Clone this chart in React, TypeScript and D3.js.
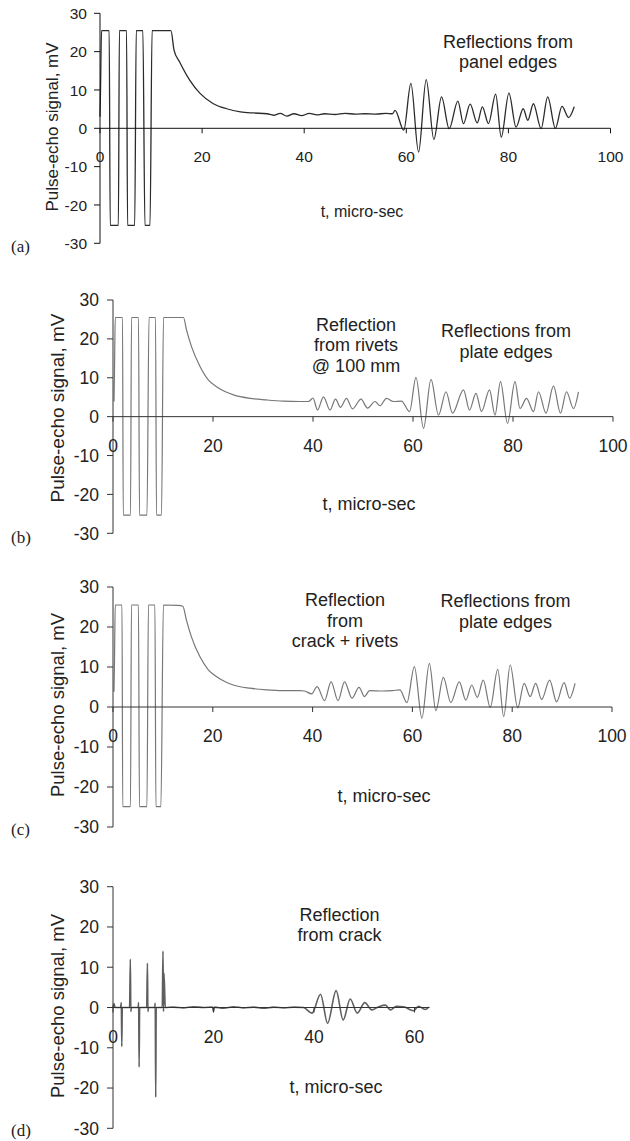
import React from 'react'
import { scaleLinear, line, curveMonotoneX } from 'd3'

// traces: [t in micro-sec, signal in mV]
const signalA: [number, number][] = [
  [0.0, 3.0], [0.1, 10.0], [0.3, 25.5], [1.8, 25.5], [2.0, -25.3], [3.6, -25.3], [3.8, 25.5], [5.2, 25.5],
  [5.4, -25.3], [6.8, -25.3], [7.1, 25.5], [8.4, 25.5], [8.8, -25.3], [9.8, -25.3], [10.2, 25.5], [13.9, 25.5],
  [14.5, 20.4], [15.6, 17.3], [17.6, 12.5], [19.6, 9.1], [22.2, 6.4], [24.8, 5.1], [27.5, 4.3], [30.0, 4.0],
  [32.7, 3.8], [34.0, 3.4], [35.3, 3.9], [36.6, 3.2], [38.0, 3.8], [39.5, 3.3], [41.0, 3.9], [42.5, 3.5],
  [44.0, 3.8], [46.0, 3.6], [48.0, 3.9], [50.0, 3.7], [52.0, 3.8], [54.0, 3.7], [56.0, 3.9], [57.3, 3.8],
  [57.8, 4.7], [59.5, -0.5], [60.9, 11.7], [62.4, -6.2], [63.9, 12.7], [65.4, -2.9], [66.9, 8.2], [68.4, -0.1],
  [70.1, 7.1], [71.2, 1.2], [72.5, 6.3], [73.9, 1.4], [74.9, 5.6], [76.1, 1.2], [77.5, 8.9], [78.6, -2.3],
  [80.1, 9.2], [81.5, 0.3], [82.9, 5.1], [83.8, 2.1], [84.9, 6.4], [86.4, -0.1], [87.7, 8.2], [89.2, 0.0],
  [90.5, 5.7], [91.8, 2.8], [92.9, 5.6],
]

const signalB: [number, number][] = [
  [0.2, 3.9], [0.3, 12.0], [0.45, 25.5], [1.9, 25.5], [2.05, -25.3], [3.5, -25.3], [3.7, 25.5], [5.1, 25.5],
  [5.3, -25.3], [6.8, -25.3], [7.2, 25.5], [8.5, 25.5], [8.7, -25.3], [9.7, -25.3], [10.1, 25.5], [14.1, 25.5],
  [14.7, 22.3], [15.7, 18.0], [17.4, 12.9], [19.1, 9.4], [20.7, 7.7], [22.5, 6.4], [24.1, 5.6], [27.4, 4.7],
  [30.7, 4.3], [34.0, 4.0], [37.4, 3.9], [39.1, 3.9], [40.0, 4.8], [40.9, 1.7], [42.1, 5.1], [43.4, 1.7],
  [44.5, 4.5], [45.5, 2.4], [46.7, 4.7], [47.9, 2.0], [49.6, 4.5], [50.9, 2.2], [52.4, 3.9], [53.4, 2.8],
  [54.7, 4.7], [56.1, 3.9], [57.7, 4.0], [59.3, 1.3], [60.6, 10.1], [62.1, -3.0], [63.6, 9.6], [65.1, 0.4],
  [66.6, 6.4], [67.9, 0.9], [70.1, 6.9], [71.3, 1.7], [72.6, 6.0], [73.7, 1.3], [75.3, 6.9], [76.4, 0.4],
  [77.5, 9.0], [78.9, -1.7], [80.4, 9.0], [81.4, 2.1], [82.7, 4.7], [84.1, 1.3], [85.1, 6.4], [86.6, 0.9],
  [88.1, 7.9], [89.5, 0.9], [90.7, 6.4], [92.1, 2.1], [93.1, 6.4],
]

const signalC: [number, number][] = [
  [0.2, 3.8], [0.3, 12.0], [0.45, 25.5], [1.8, 25.5], [1.95, -24.9], [3.5, -24.9], [3.7, 25.5], [5.1, 25.5],
  [5.3, -24.9], [6.8, -24.9], [7.1, 25.5], [8.4, 25.5], [8.6, -24.9], [9.6, -24.9], [10.1, 25.5], [13.0, 25.4],
  [14.0, 25.2], [14.7, 21.8], [15.7, 17.6], [17.4, 12.6], [19.1, 9.3], [20.7, 7.6], [22.5, 6.3], [24.1, 5.5],
  [27.4, 4.7], [30.7, 4.3], [34.0, 4.1], [37.4, 4.1], [38.4, 4.0], [39.8, 3.3], [40.9, 5.1], [42.4, 1.6],
  [43.7, 6.3], [45.1, 1.6], [46.4, 6.3], [47.9, 2.2], [49.3, 4.9], [50.4, 2.6], [51.4, 4.1], [54.0, 4.0],
  [56.0, 4.1], [57.5, 4.3], [58.9, 1.1], [60.4, 10.1], [61.9, -2.8], [63.4, 10.9], [64.7, -0.9], [66.2, 7.4],
  [67.7, 1.1], [69.4, 6.3], [70.7, 1.7], [71.9, 5.5], [73.0, 2.4], [74.2, 6.7], [75.6, -0.1], [77.1, 9.4],
  [78.3, -2.4], [79.6, 10.5], [81.1, -0.2], [82.4, 5.9], [83.6, 2.6], [84.7, 5.9], [85.9, 1.9], [87.5, 6.7],
  [88.9, 1.3], [90.4, 6.1], [91.5, 2.2], [92.6, 5.9],
]

const signalD: [number, number][] = [
  [0.0, 0.0], [0.2, 1.0], [0.4, 0.0], [1.5, 0.0], [1.65, 1.2], [1.75, -9.7], [1.85, 0.0], [3.3, 0.0],
  [3.45, 12.0], [3.55, -1.0], [3.65, 0.0], [5.0, 0.0], [5.1, 1.2], [5.2, -14.8], [5.3, 0.0], [6.7, 0.0],
  [6.85, 11.0], [6.95, -1.0], [7.05, 0.0], [8.3, 0.0], [8.4, 1.1], [8.5, -22.3], [8.6, 0.0], [9.8, 0.0],
  [9.95, 14.0], [10.05, -1.0], [10.15, 8.5], [10.4, 0.0], [12.0, 0.1], [14.0, -0.1], [16.0, 0.2], [18.0, 0.0],
  [19.8, 0.1], [20.0, -1.0], [20.2, 0.1], [22.0, -0.2], [24.0, 0.2], [26.0, -0.1], [28.0, 0.1], [30.0, -0.2],
  [32.0, 0.1], [34.0, -0.1], [36.0, 0.1], [37.9, 0.0], [39.6, -1.4], [41.3, 3.3], [42.7, -3.9], [44.4, 4.2],
  [45.8, -3.1], [47.2, 2.1], [48.6, -1.4], [50.1, 1.2], [51.5, -0.6], [52.9, 0.2], [54.2, 0.6], [55.2, -0.6],
  [56.4, 0.3], [57.8, 0.2], [59.8, -0.8], [60.8, 0.3], [62.1, -0.5], [62.8, 0.1],
]

const yTicks = [-30, -20, -10, 0, 10, 20, 30]
const xTicksLong = [0, 20, 40, 60, 80, 100]
const xTicksShort = [0, 20, 40, 60]

const yTitle = 'Pulse-echo signal, mV'
const xTitle = 't, micro-sec'

const notesA = [['Reflections from', 'panel edges']]
const notesB = [['Reflection', 'from rivets', '@ 100 mm'], ['Reflections from', 'plate edges']]
const notesC = [['Reflection', 'from', 'crack + rivets'], ['Reflections from', 'plate edges']]
const notesD = [['Reflection', 'from crack']]

const sans = '"Liberation Sans", Arial, Helvetica, sans-serif'
const serif = '"Liberation Serif", "Times New Roman", serif'
const ink = '#222'

const panels = [
  {
    tag: '(a)', tagY: 252, data: signalA, xMax: 100, xTicks: xTicksLong,
    x0: 100, x1: 610.5, yTop: 13.3, yBot: 243.3, tickSize: 15.5, tickDy: 33.7, yLabGap: 13,
    yTitleX: 57.5, yTitleY: 127, yTitleSize: 17, xTitleX: 362, xTitleY: 217, xTitleSize: 16,
    notes: notesA, notePos: [{ x: 508, y: 47.5, gap: 20 }], axis: '#111', stroke: '#2b2b2b', weight: 1.3,
  },
  {
    tag: '(b)', tagY: 543, data: signalB, xMax: 100, xTicks: xTicksLong,
    x0: 113, x1: 613, yTop: 300, yBot: 533.3, tickSize: 17.5, tickDy: 35, yLabGap: 14,
    yTitleX: 63.5, yTitleY: 408, yTitleSize: 19, xTitleX: 369, xTitleY: 510, xTitleSize: 18,
    notes: notesB, notePos: [{ x: 356, y: 330.7, gap: 20.7 }, { x: 506, y: 337.3, gap: 21 }], axis: '#333', stroke: '#777', weight: 1.2,
  },
  {
    tag: '(c)', tagY: 835, data: signalC, xMax: 100, xTicks: xTicksLong,
    x0: 113, x1: 612, yTop: 587, yBot: 827, tickSize: 17.5, tickDy: 35, yLabGap: 14,
    yTitleX: 63.5, yTitleY: 705, yTitleSize: 18.5, xTitleX: 384, xTitleY: 801.7, xTitleSize: 18,
    notes: notesC, notePos: [{ x: 345, y: 606, gap: 20.5 }, { x: 505.5, y: 607.3, gap: 21 }], axis: '#333', stroke: '#777', weight: 1.2,
  },
  {
    tag: '(d)', tagY: 1136, data: signalD, xMax: 63, xTicks: xTicksShort,
    x0: 113, x1: 429.6, yTop: 886.7, yBot: 1128.3, tickSize: 17.5, tickDy: 35.6, yLabGap: 14,
    yTitleX: 63.5, yTitleY: 1006, yTitleSize: 18.5, xTitleX: 336, xTitleY: 1093.3, xTitleSize: 18,
    notes: notesD, notePos: [{ x: 339.5, y: 920.7, gap: 20 }], axis: '#333', stroke: '#5f5f5f', weight: 1.6,
  },
]

const Panel = ({ p }: { p: typeof panels[number] }) => {
  const xScale = scaleLinear().domain([0, p.xMax]).range([p.x0, p.x1])
  const yScale = scaleLinear().domain([-30, 30]).range([p.yBot, p.yTop])
  const y0 = yScale(0)

  const trace = line<[number, number]>()
    .x(d => xScale(d[0]))
    .y(d => yScale(d[1]))
    .curve(curveMonotoneX)

  return (
    <g>
      <path d={trace(p.data) || ''} fill='none' stroke={p.stroke} strokeWidth={p.weight} strokeLinejoin='round' />

      {/* y axis */}
      <line x1={p.x0} x2={p.x0} y1={p.yTop} y2={p.yBot} stroke={p.axis} />
      {yTicks.map(v => (
        <g key={v} transform={`translate(${p.x0},${yScale(v)})`}>
          <line x1={-6} x2={0} stroke={p.axis} />
          <text x={-p.yLabGap} dy='0.36em' textAnchor='end' fontSize={p.tickSize} fontFamily={sans} fill={ink}>{v}</text>
        </g>
      ))}

      {/* x axis through zero */}
      <line x1={p.x0} x2={p.x1} y1={y0} y2={y0} stroke={p.axis} />
      {p.xTicks.map(t => (
        <g key={t} transform={`translate(${xScale(t)},${y0})`}>
          <line y1={0} y2={5} stroke={p.axis} />
          <text y={p.tickDy} textAnchor='middle' fontSize={p.tickSize} fontFamily={sans} fill={ink}>{t}</text>
        </g>
      ))}

      <text transform={`translate(${p.yTitleX},${p.yTitleY}) rotate(-90)`} textAnchor='middle'
        fontSize={p.yTitleSize} fontFamily={sans} fill={ink}>{yTitle}</text>
      <text x={p.xTitleX} y={p.xTitleY} textAnchor='middle' fontSize={p.xTitleSize} fontFamily={sans} fill={ink}>{xTitle}</text>

      {p.notes.map((lines, i) => (
        <text key={i} textAnchor='middle' fontSize={18} fontFamily={sans} fill={ink}>
          {lines.map((s, j) => (
            <tspan key={j} x={p.notePos[i].x} y={p.notePos[i].y + j * p.notePos[i].gap}>{s}</tspan>
          ))}
        </text>
      ))}

      <text x={11} y={p.tagY} fontSize={17} fontFamily={serif} fill={ink}>{p.tag}</text>
    </g>
  )
}

const App = () => {
  const width = 630
  const height = 1141
  return (
    <svg width={width} height={height} style={{ position: 'absolute', left: 0, top: 0, background: '#fff' }}>
      {panels.map(p => <Panel key={p.tag} p={p} />)}
    </svg>
  )
}

export default App
